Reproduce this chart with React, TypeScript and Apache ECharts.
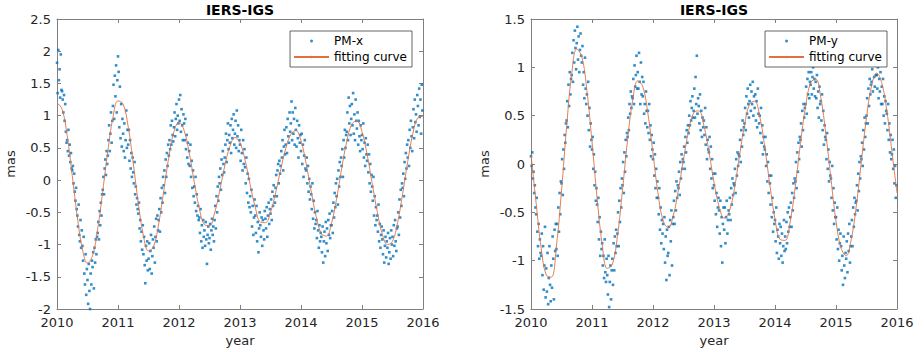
import React, { useEffect, useRef } from 'react';
import * as echarts from 'echarts';

const START_YEAR = 2010;
const END_YEAR = 2016;
const SAMPLES_PER_YEAR = 96; // scatter samples (8 per month)
const FIT_PER_YEAR = 12; // fitting curve samples (monthly)
const TITLE = 'IERS-IGS';

// PM-x residual samples, one row per month (8 values each)
const pmX = [
  1.82, 1.35, 2.02, 1.55, 1.72, 1.28, 1.95, 1.40,
  1.38, 1.25, 1.05, 1.32, 0.92, 1.18, 0.75, 0.58,
  0.62, 0.45, 0.78, 0.38, 0.55, 0.28, 0.42, 0.18,
  0.15, 0.22, -0.05, 0.10, -0.18, -0.32, -0.12, -0.45,
  -0.55, -0.72, -0.38, -0.85, -0.95, -0.62, -1.05, -0.78,
  -1.02, -1.25, -0.88, -1.45, -1.62, -1.15, -1.78, -1.38,
  -1.55, -1.92, -1.30, -1.72, -2.00, -1.45, -1.62, -1.25,
  -1.35, -1.12, -1.68, -1.05, -1.28, -0.92, -1.15, -0.88,
  -0.82, -0.65, -0.92, -0.48, -0.70, -0.35, -0.55, -0.22,
  -0.15, 0.05, -0.22, 0.18, 0.32, 0.08, 0.45, 0.25,
  0.38, 0.62, 0.85, 0.45, 0.72, 1.05, 0.58, 0.92,
  1.15, 1.48, 0.95, 1.62, 1.30, 1.78, 1.05, 1.55,
  1.92, 1.68, 0.82, 1.45, 0.65, 1.18, 0.52, 0.95,
  0.72, 0.45, 0.88, 0.35, 0.62, 1.08, 0.50, 0.78,
  0.55, 0.78, 0.30, 0.62, 0.18, 0.42, 0.05, 0.35,
  0.12, -0.05, 0.28, -0.22, -0.10, -0.38, -0.28, -0.45,
  -0.52, -0.35, -0.75, -0.62, -0.95, -0.80, -1.08, -0.70,
  -1.15, -0.88, -1.32, -1.60, -1.02, -1.25, -0.95, -1.40,
  -1.22, -0.98, -1.38, -1.10, -0.85, -1.45, -1.18, -0.92,
  -1.05, -0.72, -1.28, -0.88, -0.60, -0.95, -0.55, -0.78,
  -0.62, -0.45, -0.80, -0.28, -0.50, -0.12, -0.35, 0.05,
  -0.08, 0.15, -0.20, 0.32, 0.05, 0.42, 0.22, 0.55,
  0.38, 0.62, 0.48, 0.85, 0.55, 0.92, 0.70, 0.60,
  0.82, 1.05, 0.68, 0.95, 1.18, 0.78, 1.00, 0.88,
  1.25, 0.92, 1.32, 0.75, 1.10, 0.85, 0.62, 1.02,
  0.88, 0.62, 0.95, 0.48, 0.70, 0.35, 0.58, 0.25,
  0.45, 0.22, 0.55, 0.05, 0.30, -0.12, 0.15, -0.25,
  -0.10, -0.35, 0.05, -0.48, -0.22, -0.55, -0.40, -0.62,
  -0.58, -0.82, -0.45, -0.95, -0.70, -1.05, -0.62, -0.88,
  -0.78, -1.02, -0.65, -0.92, -1.30, -0.85, -0.72, -0.98,
  -0.90, -0.68, -1.08, -0.78, -0.60, -0.85, -0.72, -0.95,
  -0.62, -0.40, -0.75, -0.25, -0.50, -0.10, -0.32, 0.05,
  -0.05, 0.18, -0.15, 0.32, 0.08, 0.45, 0.25, 0.12,
  0.35, 0.55, 0.72, 0.28, 0.62, 0.88, 0.48, 0.70,
  0.58, 0.85, 0.42, 0.95, 0.65, 0.78, 1.02, 0.55,
  0.72, 0.92, 0.50, 1.08, 0.68, 0.85, 0.45, 0.62,
  0.55, 0.30, 0.78, 0.42, 0.15, 0.62, 0.25, 0.48,
  0.20, -0.05, 0.35, -0.20, 0.10, -0.35, 0.02, -0.42,
  -0.25, -0.50, -0.15, -0.72, -0.40, -0.85, -0.58, -0.30,
  -0.55, -0.82, -0.40, -0.95, -0.65, -1.12, -0.75, -0.50,
  -0.70, -0.88, -0.58, -1.02, -0.62, -0.78, -0.92, -0.48,
  -0.60, -0.75, -0.42, -0.88, -0.55, -0.35, -0.68, -0.45,
  -0.52, -0.30, -0.62, -0.18, -0.40, -0.08, -0.25, -0.35,
  -0.12, 0.08, -0.25, 0.15, 0.25, -0.05, 0.30, 0.10,
  0.22, 0.45, 0.35, 0.62, 0.15, 0.52, 0.78, 0.40,
  0.55, 0.82, 0.42, 0.95, 0.68, 0.58, 1.05, 0.75,
  0.88, 1.22, 0.62, 1.05, 0.72, 0.95, 0.55, 1.12,
  0.78, 0.52, 0.92, 0.65, 0.35, 0.85, 0.58, 0.70,
  0.45, 0.72, 0.25, 0.55, 0.05, 0.38, 0.62, 0.18,
  0.15, 0.35, -0.05, 0.22, -0.18, 0.02, -0.30, -0.10,
  -0.22, -0.45, -0.05, -0.60, -0.32, -0.75, -0.50, -0.68,
  -0.62, -0.90, -0.48, -0.78, -1.05, -0.70, -0.95, -0.82,
  -0.88, -1.12, -0.72, -1.28, -0.95, -0.80, -1.18, -0.65,
  -0.98, -0.75, -1.10, -0.62, -0.85, -0.52, -0.90, -0.70,
  -0.70, -0.48, -0.82, -0.35, -0.58, -0.20, -0.42, -0.05,
  -0.25, 0.02, -0.38, 0.15, -0.10, 0.28, 0.05, 0.35,
  0.22, 0.48, 0.05, 0.62, 0.35, 0.78, 0.50, 0.70,
  0.75, 1.05, 0.62, 1.28, 0.88, 1.15, 0.70, 0.95,
  1.18, 0.85, 1.35, 0.72, 1.02, 0.62, 1.25, 0.92,
  0.80, 1.05, 0.55, 0.92, 0.68, 0.45, 0.85, 0.62,
  0.70, 0.48, 0.88, 0.35, 0.58, 0.22, 0.65, 0.40,
  0.30, 0.55, 0.12, 0.40, -0.05, 0.25, -0.18, 0.08,
  -0.10, -0.32, 0.05, -0.55, -0.25, -0.70, -0.42, -0.62,
  -0.55, -0.80, -0.38, -0.95, -0.68, -1.05, -0.85, -0.72,
  -0.92, -1.15, -0.78, -1.28, -1.02, -0.88, -1.20, -0.95,
  -1.05, -0.82, -1.30, -1.12, -0.90, -1.22, -0.78, -1.00,
  -0.88, -1.18, -0.70, -1.02, -0.62, -0.95, -1.10, -0.75,
  -0.72, -0.50, -0.85, -0.30, -0.58, -0.15, -0.40, -0.05,
  -0.12, 0.10, -0.25, 0.28, 0.02, 0.42, 0.18, 0.55,
  0.35, 0.62, 0.22, 0.78, 0.50, 0.92, 0.68, 0.45,
  0.82, 1.10, 0.65, 1.25, 0.90, 1.02, 0.75, 1.32,
  1.15, 0.85, 1.42, 0.98, 1.25, 0.72, 1.48, 1.08,
];

// PM-y residual samples, one row per month (8 values each)
const pmY = [
  0.08, -0.02, 0.12, -0.15, -0.08, -0.30, -0.22, -0.45,
  -0.52, -0.35, -0.70, -0.85, -0.62, -0.98, -0.78, -0.92,
  -0.95, -0.72, -1.15, -0.85, -1.30, -1.05, -0.65, -1.38,
  -1.08, -1.32, -0.92, -1.45, -1.18, -0.85, -1.25, -1.42,
  -1.05, -1.28, -0.75, -0.98, -1.40, -0.68, -0.90, -0.62,
  -0.88, -0.62, -0.95, -0.45, -0.70, -0.30, -0.52, -0.18,
  -0.20, 0.05, -0.32, 0.15, -0.05, 0.30, 0.22, 0.42,
  0.45, 0.65, 0.38, 0.82, 0.60, 0.95, 0.72, 0.88,
  0.92, 1.15, 0.85, 1.28, 1.05, 1.38, 1.20, 0.98,
  1.25, 1.42, 1.08, 1.32, 0.95, 1.18, 1.35, 1.12,
  1.05, 1.22, 0.82, 0.95, 0.68, 1.10, 0.78, 0.62,
  0.72, 0.50, 0.85, 0.35, 0.58, 0.18, 0.42, 0.25,
  0.15, 0.28, -0.05, 0.10, -0.22, -0.08, -0.38, -0.25,
  -0.42, -0.60, -0.35, -0.78, -0.55, -0.95, -0.70, -0.88,
  -0.82, -1.05, -0.95, -1.18, -0.78, -1.12, -1.22, -0.98,
  -1.15, -1.35, -0.95, -1.48, -1.22, -1.05, -1.40, -1.10,
  -0.98, -1.25, -0.82, -1.10, -0.75, -0.92, -0.68, -0.85,
  -0.72, -0.50, -0.85, -0.38, -0.60, -0.25, -0.45, -0.15,
  -0.22, 0.02, -0.30, 0.12, -0.08, 0.25, 0.08, 0.32,
  0.28, 0.48, 0.35, 0.62, 0.52, 0.75, 0.58, 0.70,
  0.68, 0.88, 0.62, 1.02, 0.80, 0.92, 1.12, 0.78,
  0.95, 0.78, 1.15, 0.85, 0.62, 1.05, 0.72, 0.90,
  0.70, 0.85, 0.52, 0.62, 0.42, 0.75, 0.55, 0.38,
  0.55, 0.32, 0.62, 0.25, 0.40, 0.08, 0.30, 0.15,
  0.05, 0.22, -0.12, 0.10, -0.25, -0.05, -0.35, -0.18,
  -0.35, -0.52, -0.25, -0.68, -0.45, -0.82, -0.58, -0.72,
  -0.62, -0.88, -0.55, -1.02, -0.75, -1.20, -0.68, -0.95,
  -0.92, -0.65, -1.15, -0.58, -0.80, -0.48, -1.05, -0.62,
  -0.55, -0.38, -0.62, -0.28, -0.48, -0.18, -0.35, -0.22,
  -0.25, -0.08, -0.32, 0.02, -0.15, 0.10, -0.05, 0.05,
  0.02, 0.18, -0.05, 0.28, 0.12, 0.35, 0.22, 0.40,
  0.32, 0.50, 0.40, 0.65, 0.45, 0.58, 0.70, 0.48,
  0.55, 0.78, 0.48, 0.90, 0.62, 1.12, 0.52, 0.68,
  0.60, 0.42, 0.72, 0.35, 0.55, 0.28, 0.48, 0.38,
  0.45, 0.30, 0.58, 0.20, 0.38, 0.05, 0.25, 0.15,
  0.12, 0.28, -0.05, 0.18, -0.15, 0.05, -0.25, -0.10,
  -0.22, -0.38, -0.10, -0.52, -0.30, -0.65, -0.45, -0.35,
  -0.48, -0.72, -0.38, -0.85, -0.55, -1.02, -0.62, -0.45,
  -0.68, -0.45, -0.82, -0.55, -0.38, -0.72, -0.58, -0.48,
  -0.52, -0.35, -0.58, -0.25, -0.42, -0.15, -0.32, -0.20,
  -0.22, -0.05, -0.30, 0.05, -0.12, 0.12, -0.02, 0.10,
  0.08, 0.25, 0.02, 0.35, 0.18, 0.45, 0.30, 0.38,
  0.42, 0.58, 0.35, 0.70, 0.52, 0.78, 0.62, 0.48,
  0.65, 0.82, 0.55, 0.75, 0.62, 0.85, 0.50, 0.70,
  0.58, 0.72, 0.45, 0.65, 0.38, 0.78, 0.52, 0.42,
  0.50, 0.32, 0.58, 0.22, 0.40, 0.10, 0.28, 0.18,
  0.15, 0.28, -0.02, 0.10, -0.18, 0.02, -0.30, -0.12,
  -0.20, -0.42, -0.12, -0.55, -0.35, -0.70, -0.50, -0.62,
  -0.58, -0.80, -0.45, -0.92, -0.68, -0.75, -0.98, -0.62,
  -0.82, -0.65, -0.95, -0.72, -1.02, -0.85, -0.58, -0.90,
  -0.75, -0.88, -0.60, -0.82, -0.50, -0.70, -0.45, -0.65,
  -0.55, -0.40, -0.65, -0.30, -0.48, -0.20, -0.35, -0.15,
  -0.18, 0.02, -0.25, 0.12, -0.08, 0.22, 0.05, 0.28,
  0.25, 0.42, 0.18, 0.55, 0.35, 0.62, 0.48, 0.58,
  0.62, 0.80, 0.52, 0.88, 0.72, 0.95, 0.68, 0.85,
  0.82, 0.95, 0.72, 0.90, 1.00, 0.78, 0.88, 0.70,
  0.85, 0.68, 0.92, 0.58, 0.75, 0.48, 0.80, 0.62,
  0.65, 0.45, 0.72, 0.35, 0.55, 0.20, 0.40, 0.28,
  0.25, 0.05, 0.32, -0.05, 0.15, -0.18, 0.02, -0.12,
  -0.15, -0.35, -0.02, -0.48, -0.25, -0.62, -0.40, -0.55,
  -0.55, -0.78, -0.45, -0.88, -0.68, -1.00, -0.82, -0.72,
  -0.85, -1.10, -0.95, -1.25, -0.75, -1.05, -1.18, -0.92,
  -0.98, -0.80, -1.12, -0.72, -0.90, -0.62, -1.02, -0.85,
  -0.75, -0.58, -0.85, -0.45, -0.65, -0.35, -0.52, -0.40,
  -0.38, -0.22, -0.48, -0.10, -0.28, 0.02, -0.15, 0.08,
  0.05, 0.22, -0.02, 0.35, 0.15, 0.48, 0.28, 0.42,
  0.50, 0.68, 0.42, 0.78, 0.60, 0.88, 0.72, 0.82,
  0.85, 0.98, 0.75, 1.05, 0.90, 0.80, 1.02, 0.92,
  0.92, 0.78, 1.00, 0.68, 0.88, 0.75, 0.95, 0.62,
  0.80, 0.62, 0.88, 0.50, 0.70, 0.42, 0.65, 0.55,
  0.52, 0.35, 0.62, 0.25, 0.42, 0.12, 0.30, 0.05,
  0.10, 0.25, -0.05, 0.15, -0.20, -0.02, -0.35, -0.22,
];

// Fitting curves, monthly values
const fitX = [
  1.20, 1.10, 0.69, 0.07, -0.57, -1.07, -1.29, -1.17, -0.76, -0.17, 0.45, 0.97,
  1.23, 1.18, 0.83, 0.26, -0.36, -0.86, -1.10, -1.03, -0.68, -0.17, 0.36, 0.75,
  0.90, 0.77, 0.43, -0.03, -0.44, -0.69, -0.71, -0.51, -0.17, 0.22, 0.52, 0.66,
  0.58, 0.31, -0.07, -0.42, -0.65, -0.66, -0.50, -0.20, 0.16, 0.49, 0.71, 0.77,
  0.61, 0.26, -0.17, -0.57, -0.83, -0.87, -0.67, -0.29, 0.18, 0.60, 0.87, 0.92,
  0.75, 0.40, -0.05, -0.49, -0.84, -1.00, -0.95, -0.66, -0.21, 0.29, 0.72, 0.97,
  0.99,
];

const fitY = [
  0.10, -0.40, -0.87, -1.15, -1.17, -0.85, -0.28, 0.38, 0.93, 1.19, 1.11, 0.76,
  0.23, -0.35, -0.83, -1.08, -1.04, -0.75, -0.27, 0.25, 0.66, 0.86, 0.80, 0.52,
  0.11, -0.31, -0.59, -0.66, -0.53, -0.27, 0.05, 0.34, 0.53, 0.55, 0.40, 0.13,
  -0.19, -0.44, -0.56, -0.49, -0.26, 0.08, 0.40, 0.62, 0.65, 0.49, 0.17, -0.22,
  -0.57, -0.78, -0.79, -0.59, -0.23, 0.21, 0.59, 0.84, 0.88, 0.69, 0.31, -0.15,
  -0.59, -0.87, -0.95, -0.78, -0.43, 0.03, 0.48, 0.81, 0.94, 0.84, 0.55, 0.13,
  -0.30,
];

const FONT = 'DejaVu Sans';
const AXIS_COLOR = '#808080';
const TEXT_COLOR = '#262626';
const BLUE = '#0072BD';
const ORANGE = '#E2703F';

const grids = [
  { left: 57, top: 19, width: 366, height: 290 },
  { left: 531, top: 19, width: 366, height: 290 },
];

const panels = [
  { name: 'PM-x', samples: pmX, fit: fitX, yMin: -2, yMax: 2.5, legendRight: 512 },
  { name: 'PM-y', samples: pmY, fit: fitY, yMin: -1.5, yMax: 1.5, legendRight: 37 },
];

function buildOption() {
  const tick = { show: true, inside: true, length: 4, lineStyle: { color: AXIS_COLOR, width: 1 } };
  const line = { show: true, onZero: false, lineStyle: { color: AXIS_COLOR, width: 1 } };
  const fmt = (v: number) => String(v);
  const xAxis: any[] = [];
  const yAxis: any[] = [];
  const series: any[] = [];
  const legend: any[] = [];
  const title: any[] = [];

  panels.forEach((p, gi) => {
    const g = grids[gi];
    title.push({
      text: TITLE,
      left: g.left + g.width / 2,
      top: 3,
      textAlign: 'center',
      padding: 0,
      textStyle: { fontFamily: FONT, fontSize: 14, fontWeight: 'bold', color: '#000' },
    });
    xAxis.push({
      type: 'value', gridIndex: gi, min: START_YEAR, max: END_YEAR, interval: 1,
      position: 'bottom',
      name: 'year', nameLocation: 'middle', nameGap: 23,
      nameTextStyle: { fontFamily: FONT, fontSize: 13, color: TEXT_COLOR },
      axisLine: line, axisTick: tick, splitLine: { show: false },
      axisLabel: { fontFamily: FONT, fontSize: 13, color: TEXT_COLOR, margin: 7, formatter: fmt },
    });
    xAxis.push({
      type: 'value', gridIndex: gi, min: START_YEAR, max: END_YEAR, interval: 1,
      position: 'top', axisLine: line, axisTick: tick, splitLine: { show: false },
      axisLabel: { show: false },
    });
    yAxis.push({
      type: 'value', gridIndex: gi, min: p.yMin, max: p.yMax, interval: 0.5,
      position: 'left',
      name: 'mas', nameLocation: 'middle', nameGap: 40,
      nameTextStyle: { fontFamily: FONT, fontSize: 13, color: TEXT_COLOR },
      axisLine: line, axisTick: tick, splitLine: { show: false },
      axisLabel: { fontFamily: FONT, fontSize: 13, color: TEXT_COLOR, margin: 6, formatter: fmt },
    });
    yAxis.push({
      type: 'value', gridIndex: gi, min: p.yMin, max: p.yMax, interval: 0.5,
      position: 'right', axisLine: line, axisTick: tick, splitLine: { show: false },
      axisLabel: { show: false },
    });
    series.push({
      type: 'scatter',
      name: p.name,
      xAxisIndex: gi * 2,
      yAxisIndex: gi * 2,
      symbol: 'rect',
      symbolSize: 2.6,
      itemStyle: { color: BLUE },
      data: p.samples.map((v, i) => [START_YEAR + i / SAMPLES_PER_YEAR, v]),
      z: 2,
    });
    series.push({
      type: 'line',
      name: 'fitting curve',
      xAxisIndex: gi * 2,
      yAxisIndex: gi * 2,
      symbol: 'none',
      smooth: 0.4,
      lineStyle: { color: ORANGE, width: 0.9 },
      itemStyle: { color: ORANGE },
      data: p.fit.map((v, k) => [START_YEAR + k / FIT_PER_YEAR, v]),
      z: 3,
    });
    legend.push({
      orient: 'vertical',
      right: p.legendRight,
      top: 31,
      align: 'left',
      itemWidth: 35,
      itemHeight: 3,
      itemGap: 2,
      padding: [3, 5, 3, 3],
      backgroundColor: '#fff',
      borderColor: '#404040',
      borderWidth: 0.8,
      textStyle: { fontFamily: FONT, fontSize: 12, color: '#000', lineHeight: 14 },
      data: [{ name: p.name, icon: 'circle' }, { name: 'fitting curve' }],
      selectedMode: false,
    });
  });

  return {
    animation: false,
    backgroundColor: '#fff',
    textStyle: { fontFamily: FONT },
    title,
    grid: grids.map((g) => ({ ...g, containLabel: false })),
    xAxis,
    yAxis,
    legend,
    series,
  };
}

export default function App() {
  const ref = useRef<HTMLDivElement>(null);
  useEffect(() => {
    if (!ref.current) return;
    const chart = echarts.init(ref.current, undefined, { renderer: 'svg' });
    chart.setOption(buildOption());
    return () => chart.dispose();
  }, []);
  return (
    <div
      ref={ref}
      style={{ position: 'absolute', left: 0, top: 0, width: 924, height: 352, background: '#fff' }}
    />
  );
}
